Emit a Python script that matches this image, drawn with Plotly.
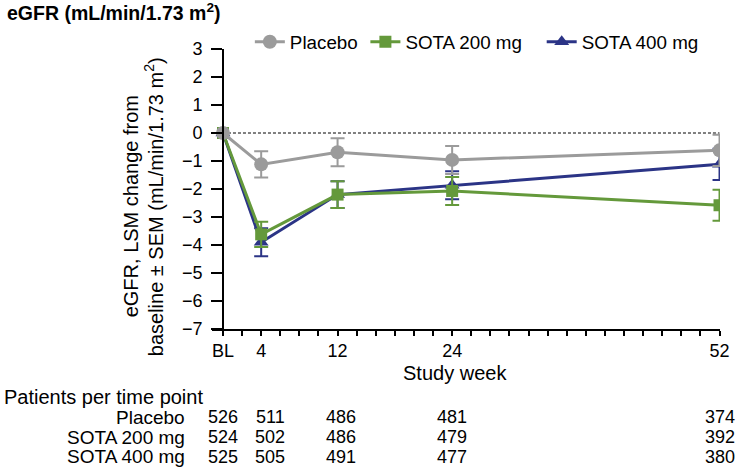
import plotly.graph_objects as go

# ---------------- data ----------------
weeks = [0, 4, 12, 24, 52]
week_labels = ["BL", "4", "12", "24", "52"]

placebo = [0, -1.12, -0.69, -0.96, -0.62]
placebo_sem = [0, 0.47, 0.50, 0.50, 0.56]

sota200 = [0, -3.62, -2.20, -2.07, -2.58]
sota200_sem = [0, 0.45, 0.48, 0.50, 0.55]

sota400 = [0, -3.90, -2.20, -1.87, -1.12]
sota400_sem = [0, 0.50, 0.48, 0.50, 0.56]

groups = ["Placebo", "SOTA 200 mg", "SOTA 400 mg"]
n_placebo = [526, 511, 486, 481, 374]
n_sota200 = [524, 502, 486, 479, 392]
n_sota400 = [525, 505, 491, 477, 380]

# ---------------- layout geometry ----------------
W, H = 742, 469
L, R, T, B = 212, 20, 49, 140
XMIN, XMAX = -1.15, 52.05
FONT = "Liberation Sans, Arial, Helvetica, sans-serif"
FS_TEXT = 20
FS_ROW = 19
FS_NUM = 18
FS_LEG = 18.8

GREY = "#9b9b9b"
GREEN = "#64993b"
NAVY = "#2b3486"

plot_w = W - L - R
plot_h = H - T - B


def px_x(px):
    return (px - L) / plot_w


def px_y(py):
    return (H - B - py) / plot_h


fig = go.Figure()

series = [
    ("SOTA 400 mg", sota400, sota400_sem, NAVY, "triangle-up", 13, "legend3"),
    ("SOTA 200 mg", sota200, sota200_sem, GREEN, "square", 12, "legend2"),
    ("Placebo", placebo, placebo_sem, GREY, "circle", 14, "legend"),
]
for name, vals, sem, col, sym, sz, leg in series:
    fig.add_trace(go.Scatter(
        x=weeks, y=vals, name=name, mode="lines+markers",
        line=dict(color=col, width=3),
        marker=dict(color=col, symbol=sym, size=sz),
        error_y=dict(type="data", array=sem, visible=True, color=col,
                     thickness=2, width=7),
        legend=leg,
    ))

# zero reference line
fig.add_shape(type="line", xref="x", yref="y", x0=0, x1=52, y0=0, y1=0,
              line=dict(color="black", width=1, dash="3px,2px"), layer="below")

annotations = []
# title
annotations.append(dict(text="<b>eGFR (mL/min/1.73 m<sup>2</sup>)</b>", xref="paper", yref="paper",
                        x=px_x(4), y=px_y(12), xanchor="left", yanchor="middle",
                        showarrow=False, font=dict(size=19.5, color="black", family=FONT)))
# y axis title (two lines)
annotations.append(dict(text="eGFR, LSM change from",
                        xref="paper", yref="paper", x=px_x(131), y=px_y(206),
                        xanchor="center", yanchor="middle", textangle=-90, showarrow=False,
                        font=dict(size=FS_TEXT, color="black", family=FONT)))
annotations.append(dict(text="baseline ± SEM (mL/min/1.73 m<sup>2</sup>)",
                        xref="paper", yref="paper", x=px_x(153), y=px_y(207),
                        xanchor="center", yanchor="middle", textangle=-90, showarrow=False,
                        font=dict(size=FS_TEXT, color="black", family=FONT)))
# x axis title
annotations.append(dict(text="Study week", xref="paper", yref="paper", x=px_x(456), y=px_y(373),
                        xanchor="center", yanchor="middle", showarrow=False,
                        font=dict(size=FS_TEXT, color="black", family=FONT)))
# table header
annotations.append(dict(text="Patients per time point", xref="paper", yref="paper",
                        x=px_x(1), y=px_y(397), xanchor="left", yanchor="middle", showarrow=False,
                        font=dict(size=FS_TEXT, color="black", family=FONT)))
rows_y = [417, 437, 456.5]
shifts = [0, 9, 3, 0, 0]
for g, counts, ry in zip(groups, [n_placebo, n_sota200, n_sota400], rows_y):
    annotations.append(dict(text=g, xref="paper", yref="paper", x=px_x(187), y=px_y(ry),
                            xanchor="right", yanchor="middle", showarrow=False,
                            font=dict(size=FS_ROW, color="black", family=FONT)))
    for wk, c, sh in zip(weeks, counts, shifts):
        annotations.append(dict(text=str(c), xref="x", yref="paper", x=wk, y=px_y(ry),
                                xshift=sh, xanchor="center", yanchor="middle", showarrow=False,
                                font=dict(size=FS_NUM, color="black", family=FONT)))


def leg(xpx):
    return dict(orientation="h", x=px_x(xpx), y=px_y(42), xanchor="left", yanchor="middle",
                font=dict(size=FS_LEG, color="black", family=FONT), bgcolor="rgba(0,0,0,0)",
                itemwidth=30)


fig.update_layout(
    width=W, height=H,
    margin=dict(l=L, r=R, t=T, b=B),
    plot_bgcolor="white", paper_bgcolor="white",
    font=dict(family=FONT, size=FS_NUM, color="black"),
    showlegend=True,
    legend=leg(250),
    legend2=leg(366),
    legend3=leg(543),
    annotations=annotations,
    xaxis=dict(range=[XMIN, XMAX], tickmode="array", tickvals=weeks, ticktext=week_labels,
               showline=True, linecolor="black", linewidth=1.5, mirror=False,
               ticks="outside", ticklen=5, tickwidth=1.5, tickcolor="black",
               minor=dict(tickmode="linear", tick0=0, dtick=2, ticks="outside", ticklen=5,
                          tickwidth=1.5, tickcolor="black", showgrid=False),
               showgrid=False, zeroline=False, fixedrange=True,
               tickfont=dict(size=FS_NUM, color="black", family=FONT)),
    yaxis=dict(range=[-7, 3], tickmode="linear", tick0=-7, dtick=1,
               anchor="free", position=(0 - XMIN) / (XMAX - XMIN),
               showline=True, linecolor="black", linewidth=1.5,
               ticks="outside", ticklen=11, tickwidth=1.5, tickcolor="black",
               ticklabelstandoff=5,
               showgrid=False, zeroline=False, fixedrange=True,
               tickfont=dict(size=FS_NUM, color="black", family=FONT)),
)

fig.write_html("out.html", config={"displayModeBar": False},
               post_script="document.body.style.margin='0';")
